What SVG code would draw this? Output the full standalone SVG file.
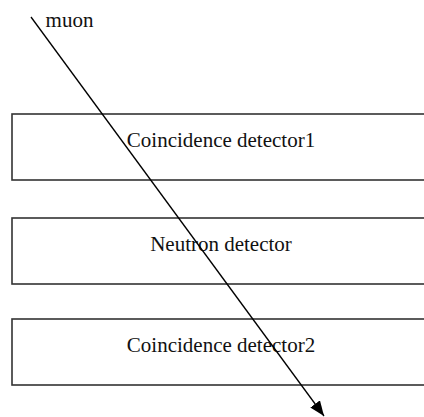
<svg xmlns="http://www.w3.org/2000/svg" width="424" height="417" viewBox="0 0 424 417">
<style>
.box{fill:#fff;stroke:#333;stroke-width:1.6}
.lbl{font-family:"Liberation Serif","Times New Roman",serif;font-size:21px;fill:#111;text-anchor:middle}
.conn{stroke:#000;stroke-width:1.3;fill:none}
</style>
<defs>
<marker id="ah" viewBox="0 0 15 12" refX="15" refY="6" markerWidth="15" markerHeight="12" markerUnits="userSpaceOnUse" orient="auto">
<path d="M0,0 L15,6 L0,12 Z" fill="#000"/>
</marker>
</defs>
<rect width="424" height="417" fill="#fff"/>
<g id="coincidence1"><rect class="box" x="12" y="114" width="420" height="66"/><text class="lbl" x="221" y="147">Coincidence detector1</text></g>
<g id="neutron"><rect class="box" x="12" y="218" width="420" height="66"/><text class="lbl" x="221" y="251">Neutron detector</text></g>
<g id="coincidence2"><rect class="box" x="12" y="319" width="420" height="66"/><text class="lbl" x="221" y="352">Coincidence detector2</text></g>
<g id="muon-label"><text class="lbl" x="69.5" y="27">muon</text></g>
<g id="connectors"><line class="conn" x1="31" y1="17" x2="324" y2="416" marker-end="url(#ah)"/></g>
</svg>
